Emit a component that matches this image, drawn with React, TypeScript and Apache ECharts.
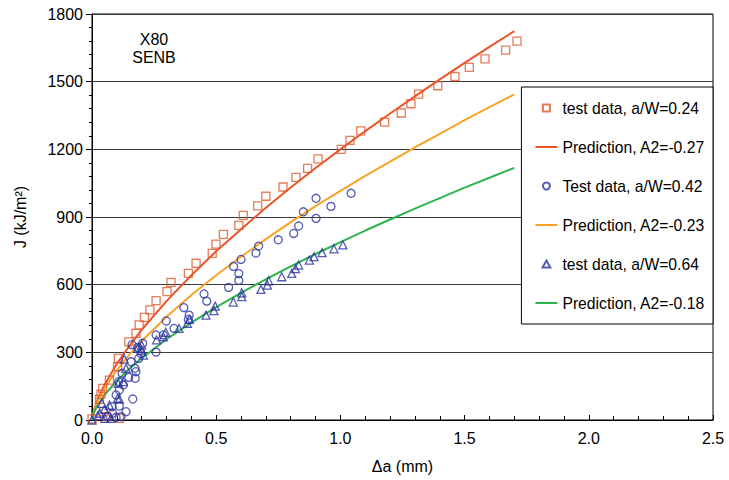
import React, { useEffect, useRef } from "react";
import * as echarts from "echarts";

const xTicks = [0, 0.5, 1.0, 1.5, 2.0, 2.5];
const yTicks = [0, 300, 600, 900, 1200, 1500, 1800];

const seriesNames = [
  "test data, a/W=0.24",
  "Prediction, A2=-0.27",
  "Test data, a/W=0.42",
  "Prediction, A2=-0.23",
  "test data, a/W=0.64",
  "Prediction, A2=-0.18",
];

// test data a/W=0.24 (squares) [Δa mm, J kJ/m2]
const squares024 = [
  [0.0, 5], [0.03, 92], [0.036, 115], [0.043, 140], [0.045, 37], [0.059, 15],
  [0.07, 177], [0.103, 236], [0.106, 273], [0.11, 7], [0.148, 346], [0.177, 384],
  [0.19, 422], [0.211, 455], [0.233, 488], [0.258, 529], [0.302, 569], [0.318, 610],
  [0.388, 650], [0.419, 695], [0.484, 739], [0.499, 780], [0.529, 823], [0.591, 863],
  [0.609, 907], [0.667, 949], [0.7, 992], [0.769, 1033], [0.821, 1076], [0.868, 1116],
  [0.91, 1158], [1.004, 1200], [1.039, 1240], [1.082, 1282], [1.178, 1321], [1.245, 1361],
  [1.284, 1402], [1.315, 1445], [1.392, 1482], [1.461, 1523], [1.519, 1563], [1.582, 1601],
  [1.665, 1640], [1.711, 1680],
];

// Test data a/W=0.42 (circles)
const circles042 = [
  [0.063, 15], [0.083, 30], [0.097, 12], [0.117, 15], [0.137, 37], [0.081, 59],
  [0.11, 62], [0.164, 93], [0.097, 111], [0.11, 133], [0.126, 155], [0.107, 170],
  [0.174, 185], [0.148, 189], [0.121, 207], [0.177, 214], [0.173, 229], [0.157, 258],
  [0.188, 273], [0.197, 296], [0.258, 301], [0.184, 322], [0.161, 334], [0.204, 340],
  [0.258, 377], [0.287, 377], [0.33, 406], [0.299, 439], [0.388, 446], [0.391, 465],
  [0.37, 498], [0.462, 527], [0.451, 559], [0.55, 588], [0.591, 619], [0.591, 649],
  [0.57, 681], [0.6, 712], [0.66, 740], [0.671, 771], [0.75, 799], [0.812, 827],
  [0.832, 860], [0.902, 894], [0.851, 923], [0.962, 947], [0.902, 983], [1.043, 1005],
];

// test data a/W=0.64 (triangles)
const triangles064 = [
  [0.0, 0], [0.023, 18], [0.032, 30], [0.04, 74], [0.05, 47], [0.052, 7],
  [0.07, 66], [0.076, 7], [0.103, 96], [0.11, 93], [0.106, 162], [0.126, 170],
  [0.137, 229], [0.13, 270], [0.207, 288], [0.2, 310], [0.184, 318], [0.2, 332],
  [0.26, 355], [0.287, 369], [0.297, 389], [0.35, 406], [0.384, 429], [0.392, 446],
  [0.459, 465], [0.491, 485], [0.496, 505], [0.569, 523], [0.603, 547], [0.603, 564],
  [0.68, 579], [0.706, 598], [0.711, 617], [0.764, 635], [0.804, 650], [0.819, 671],
  [0.832, 687], [0.875, 709], [0.894, 724], [0.926, 742], [0.974, 759], [1.01, 776],
];

// prediction curves
const predX = [0, 0.01, 0.02, 0.05, 0.1, 0.15, 0.2, 0.3, 0.4, 0.5, 0.6, 0.7, 0.8, 0.9, 1.0, 1.1, 1.2, 1.3, 1.4, 1.5, 1.6, 1.7];
const predA2_027 = [0, 52, 83, 155, 249, 328, 400, 527, 642, 748, 846, 941, 1031, 1117, 1200, 1281, 1359, 1435, 1510, 1583, 1654, 1724];
const predA2_023 = [0, 48, 76, 140, 221, 289, 350, 458, 554, 642, 724, 802, 877, 948, 1016, 1082, 1146, 1209, 1269, 1329, 1387, 1444];
const predA2_018 = [0, 38, 60, 110, 174, 227, 274, 358, 432, 500, 564, 624, 681, 736, 789, 840, 889, 937, 984, 1030, 1074, 1118];

const RED = "#EC5428";
const SQUARE = "#DE5A2E";
const ORANGE = "#F9A326";
const GREEN = "#2EB44C";
const BLUE = "#2B33A0";
const FONT = "Liberation Sans, Arial, sans-serif";

const ICON_SQUARE = "path://M0,0L10,0L10,10L0,10Z";
const ICON_TRIANGLE = "path://M5,0L10,9L0,9Z";
const ICON_LINE = "path://M0,0L44,0L44,4L0,4Z";

const pair = (ys: number[]) => predX.map((x, i) => [x, ys[i]]);

export default function App() {
  const ref = useRef<HTMLDivElement>(null);
  useEffect(() => {
    if (!ref.current) return;
    const chart = echarts.init(ref.current, null, { renderer: "svg" });
    const hollow = (c: string) => ({ color: "rgba(255,255,255,0)", borderColor: c, borderWidth: 1.3 });
    chart.setOption({
      animation: false,
      backgroundColor: "#fff",
      textStyle: { fontFamily: FONT },
      grid: { left: 92, right: 16, top: 14, bottom: 60, show: true, borderColor: "#000", borderWidth: 1, backgroundColor: "transparent" },
      xAxis: {
        type: "value",
        min: 0,
        max: 2.5,
        interval: 0.5,
        name: "Δa (mm)",
        nameLocation: "middle",
        nameGap: 38,
        nameTextStyle: { fontSize: 16, color: "#000", fontFamily: FONT },
        axisLine: { show: true, lineStyle: { color: "#000", width: 1 } },
        axisTick: { show: true, inside: true, length: 5, lineStyle: { color: "#000" } },
        minorTick: { show: true, splitNumber: 5, length: 4, lineStyle: { color: "#000" } },
        splitLine: { show: false },
        axisLabel: {
          fontSize: 16,
          color: "#000",
          margin: 10,
          fontFamily: FONT,
          formatter: (v: number) => (xTicks.includes(v) ? v.toFixed(1) : ""),
        },
      },
      yAxis: {
        type: "value",
        min: 0,
        max: 1800,
        interval: 300,
        name: "J (kJ/m²)",
        nameLocation: "middle",
        nameGap: 64,
        nameRotate: 90,
        nameTextStyle: { fontSize: 16, color: "#000", fontFamily: FONT },
        axisLine: { show: true, lineStyle: { color: "#000", width: 1 } },
        axisTick: { show: true, inside: false, length: 6, lineStyle: { color: "#000" } },
        minorTick: { show: true, splitNumber: 5, length: 3, lineStyle: { color: "#000" } },
        splitLine: { show: true, lineStyle: { color: "#3a3a3a", width: 1.2 } },
        axisLabel: {
          fontSize: 16,
          color: "#000",
          margin: 9,
          fontFamily: FONT,
          formatter: (v: number) => (yTicks.includes(v) ? String(v) : ""),
        },
      },
      legend: {
        orient: "vertical",
        right: 16,
        top: 87,
        backgroundColor: "#fff",
        borderColor: "#000",
        borderWidth: 1,
        padding: [13, 8, 13, 14],
        itemWidth: 22,
        itemHeight: 7,
        itemGap: 23,
        textStyle: { fontSize: 15.7, color: "#000", fontFamily: FONT },
        data: [
          { name: seriesNames[0], icon: ICON_SQUARE },
          { name: seriesNames[1], icon: ICON_LINE },
          { name: seriesNames[2], icon: "circle" },
          { name: seriesNames[3], icon: ICON_LINE },
          { name: seriesNames[4], icon: ICON_TRIANGLE },
          { name: seriesNames[5], icon: ICON_LINE },
        ],
      },
      graphic: [
        { type: "text", x: 154, y: 39, style: { text: "X80", fontSize: 16, fill: "#000", fontFamily: FONT, textAlign: "center", textVerticalAlign: "middle" } },
        { type: "text", x: 154, y: 57.5, style: { text: "SENB", fontSize: 16, fill: "#000", fontFamily: FONT, textAlign: "center", textVerticalAlign: "middle" } },
      ],
      series: [
        { name: seriesNames[0], type: "scatter", symbol: "rect", symbolSize: 8, data: squares024, itemStyle: hollow(SQUARE), z: 3 },
        { name: seriesNames[1], type: "line", symbol: "none", data: pair(predA2_027), lineStyle: { color: RED, width: 2 }, itemStyle: { color: RED }, z: 2 },
        { name: seriesNames[2], type: "scatter", symbol: "circle", symbolSize: 8, data: circles042, itemStyle: hollow(BLUE), z: 3 },
        { name: seriesNames[3], type: "line", symbol: "none", data: pair(predA2_023), lineStyle: { color: ORANGE, width: 2 }, itemStyle: { color: ORANGE }, z: 2 },
        { name: seriesNames[4], type: "scatter", symbol: "triangle", symbolSize: 8, data: triangles064, itemStyle: hollow(BLUE), z: 3 },
        { name: seriesNames[5], type: "line", symbol: "none", data: pair(predA2_018), lineStyle: { color: GREEN, width: 2 }, itemStyle: { color: GREEN }, z: 2 },
      ],
    });
    return () => chart.dispose();
  }, []);
  return <div ref={ref} style={{ width: 729, height: 480, position: "absolute", left: 0, top: 0 }} />;
}
